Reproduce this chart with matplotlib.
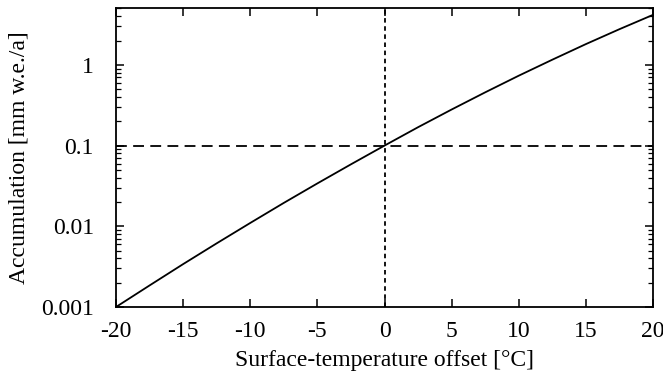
import numpy as np
import matplotlib.pyplot as plt
from matplotlib.ticker import LogLocator, FixedLocator, NullFormatter

plt.rcParams['font.family'] = ['Liberation Serif', 'DejaVu Serif']
plt.rcParams['axes.unicode_minus'] = False

# temperature offset and accumulation
dT = [-20, -17.5, -15, -12.5, -10, -7.5, -5, -2.5, 0,
      2.5, 5, 7.5, 10, 12.5, 15, 17.5, 20]
acc = [0.001, 0.00185, 0.0034, 0.00615, 0.0110, 0.0195, 0.0340, 0.0586, 0.1,
       0.169, 0.280, 0.457, 0.735, 1.16, 1.81, 2.77, 4.17]

x_ticks = [-20, -15, -10, -5, 0, 5, 10, 15, 20]
y_ticks = [0.001, 0.01, 0.1, 1]
y_labels = ['0.001', '0.01', '0.1', '1']

fig = plt.figure(figsize=(6.63, 3.78), dpi=100)
ax = fig.add_axes([116 / 663, 1 - 307 / 378, (653 - 116) / 663, (307 - 8) / 378])

ax.plot(dT, acc, color='black', lw=1.3)
ax.axhline(0.1, color='black', lw=1.3, ls=(0, (6, 3.5)))
ax.axvline(0, color='black', lw=1.3, ls=(0, (2.5, 2)))

ax.set_yscale('log')
ax.set_xlim(-20, 20)
ax.set_ylim(0.001, 5.07)
ax.xaxis.set_major_locator(FixedLocator(x_ticks))
ax.set_xticklabels([str(t) for t in x_ticks])
ax.yaxis.set_major_locator(FixedLocator(y_ticks))
ax.set_yticklabels(y_labels)
ax.yaxis.set_minor_locator(LogLocator(base=10, subs=np.arange(2, 10), numticks=20))
ax.yaxis.set_minor_formatter(NullFormatter())

ax.tick_params(which='both', direction='in', top=True, right=True,
               labelsize=17, color='black')
ax.tick_params(axis='y', which='major', length=6, width=1.1, pad=16)
ax.tick_params(axis='x', which='major', length=6, width=1.1, pad=10)
ax.tick_params(which='minor', length=3.5, width=0.9)
for s in ax.spines.values():
    s.set_linewidth(1.3)

ax.set_xlabel('Surface-temperature offset [°C]', fontsize=17, labelpad=6)
ax.set_ylabel('Accumulation [mm w.e./a]', fontsize=17, labelpad=8)

fig.savefig('out.png', dpi=100)
